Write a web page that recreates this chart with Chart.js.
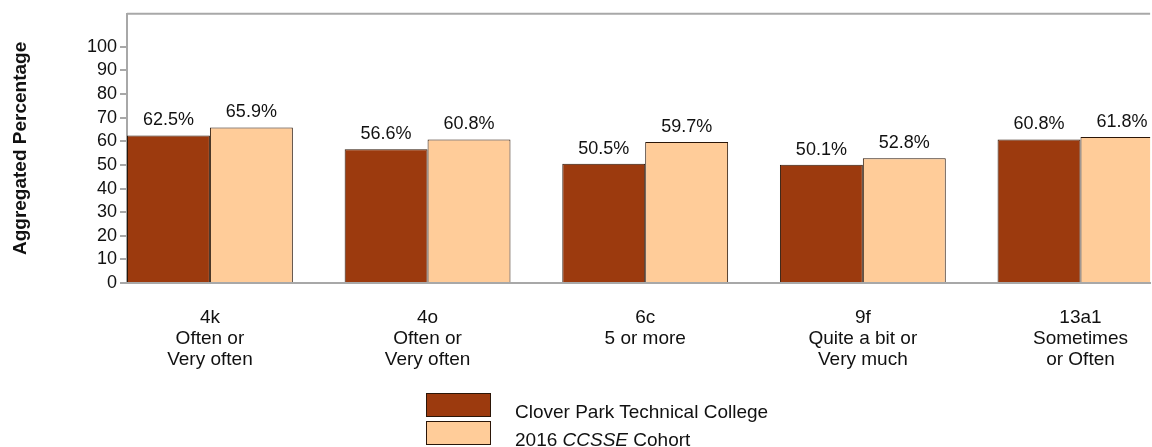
<!DOCTYPE html>
<html>
<head>
<meta charset="utf-8">
<script src="https://cdn.jsdelivr.net/npm/chart.js@4"></script>
<style>
  html, body { margin: 0; padding: 0; background: #fff; overflow: hidden; }
  #wrap { position: relative; width: 1152px; height: 447px; }
  #legend { position: absolute; left: 426px; top: 393px; font-family: "Liberation Sans", Arial, sans-serif; font-size: 19px; color: #111; }
  .row { position: relative; height: 28px; }
  .box { position: absolute; left: 0; top: 0; width: 63px; height: 22px; border: 1px solid #2b1608; }
  .txt { position: absolute; left: 89px; top: 8px; white-space: nowrap; }
</style>
</head>
<body>
<div id="wrap">
  <canvas id="chart" width="1152" height="447"></canvas>
  <div id="legend"></div>
</div>
<script>
// item codes and response labels under each pair of bars
const items = ['4k', '4o', '6c', '9f', '13a1'];
const responses = [
  ['Often or', 'Very often'],
  ['Often or', 'Very often'],
  ['5 or more'],
  ['Quite a bit or', 'Very much'],
  ['Sometimes', 'or Often']
];
const college = [62.5, 56.6, 50.5, 50.1, 60.8];
const cohort = [65.9, 60.8, 59.7, 52.8, 61.8];
const yTicks = [0, 10, 20, 30, 40, 50, 60, 70, 80, 90, 100];

const darkColor = '#9c3a0e';
const lightColor = '#ffcc99';
const axisGray = '#a8a8a8';
const font = '"Liberation Sans", Arial, sans-serif';

const topLine = {
  id: 'topLine',
  afterDraw(chart) {
    const { ctx, chartArea } = chart;
    ctx.save();
    ctx.strokeStyle = axisGray;
    ctx.lineWidth = 2;
    ctx.beginPath();
    ctx.moveTo(chartArea.left, chartArea.top);
    ctx.lineTo(chartArea.right, chartArea.top);
    ctx.stroke();
    ctx.restore();
  }
};

const barLabels = {
  id: 'barLabels',
  afterDatasetsDraw(chart) {
    const ctx = chart.ctx;
    ctx.save();
    ctx.font = '18px ' + font;
    ctx.fillStyle = '#111';
    ctx.textAlign = 'center';
    ctx.textBaseline = 'alphabetic';
    chart.data.datasets.forEach((ds, i) => {
      chart.getDatasetMeta(i).data.forEach((bar, j) => {
        ctx.fillText(ds.data[j].y.toFixed(1) + '%', bar.x, bar.y - 10);
      });
    });
    ctx.restore();
  }
};

const chart = new Chart(document.getElementById('chart'), {
  type: 'bar',
  data: {
    datasets: [
      {
        label: 'Clover Park Technical College',
        data: college.map((v, i) => ({ x: i, y: v })),
        backgroundColor: darkColor,
        borderColor: '#2b1608',
        borderWidth: 1,
        categoryPercentage: 0.762,
        barPercentage: 1
      },
      {
        label: '2016 CCSSE Cohort',
        data: cohort.map((v, i) => ({ x: i, y: v })),
        backgroundColor: lightColor,
        borderColor: '#2b1608',
        borderWidth: 1,
        categoryPercentage: 0.762,
        barPercentage: 1
      }
    ]
  },
  options: {
    responsive: false,
    animation: false,
    layout: { padding: { top: 13, left: 0, right: 0, bottom: 0 } },
    plugins: {
      legend: { display: false },
      tooltip: { enabled: false }
    },
    scales: {
      x: {
        type: 'linear',
        offset: false,
        // window cuts the last pair of bars, like the original
        min: -0.381,
        max: 4.32,
        afterBuildTicks(scale) {
          scale.ticks = items.map((_, i) => ({ value: i }));
        },
        afterFit(scale) { scale.height = 164; },
        grid: { display: false, drawTicks: false },
        border: { color: axisGray, width: 2 },
        ticks: {
          autoSkip: false,
          maxRotation: 0,
          padding: 24,
          color: '#111',
          font: { family: font, size: 19, lineHeight: 1.105 },
          callback: (v) => [items[v]].concat(responses[v])
        }
      },
      y: {
        min: 0,
        max: 114,
        afterBuildTicks(scale) {
          scale.ticks = yTicks.map(v => ({ value: v }));
        },
        afterFit(scale) { scale.width = 127; },
        grid: { drawOnChartArea: false, drawTicks: true, tickLength: 7, color: axisGray, lineWidth: 2 },
        border: { color: axisGray, width: 2 },
        ticks: {
          padding: 3,
          color: '#111',
          font: { family: font, size: 18 }
        },
        title: {
          display: true,
          text: 'Aggregated Percentage',
          color: '#111',
          font: { family: font, size: 19, weight: 'bold' },
          padding: { top: 9, bottom: 0 }
        }
      }
    }
  },
  plugins: [topLine, barLabels]
});

// legend below the plot, built from the datasets
const legend = document.getElementById('legend');
chart.data.datasets.forEach((ds, i) => {
  const row = document.createElement('div');
  row.className = 'row';
  const box = document.createElement('div');
  box.className = 'box';
  box.style.background = ds.backgroundColor;
  const txt = document.createElement('div');
  txt.className = 'txt';
  if (i === 1) {
    txt.innerHTML = '2016 <i>CCSSE</i> Cohort';
  } else {
    txt.textContent = ds.label;
  }
  row.appendChild(box);
  row.appendChild(txt);
  legend.appendChild(row);
});
</script>
</body>
</html>
